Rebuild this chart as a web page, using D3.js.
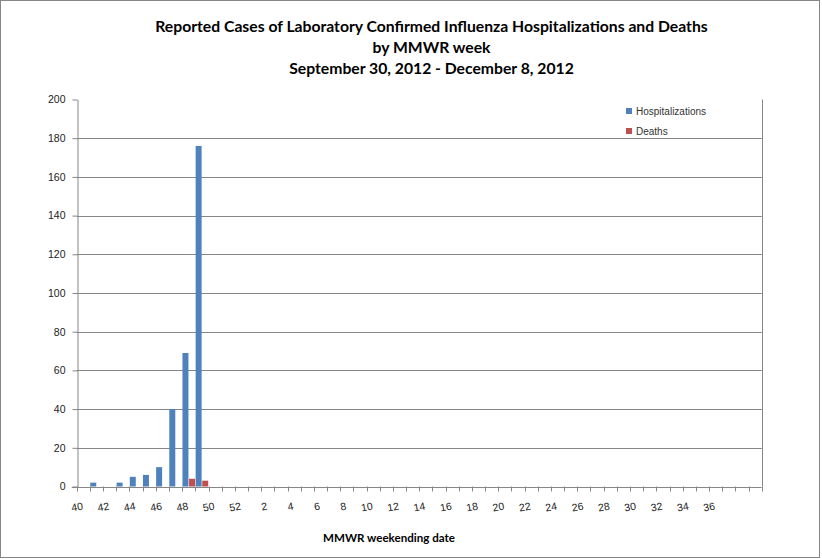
<!DOCTYPE html>
<html>
<head>
<meta charset="utf-8">
<script src="https://cdn.jsdelivr.net/npm/d3@7"></script>
<style>
  body { margin: 0; background: #fff; }
  svg { display: block; }
</style>
</head>
<body>
<div id="chart"></div>
<script>
// MMWR weeks on the category axis (2012-2013 season)
const weeks = [40, 41, 42, 43, 44, 45, 46, 47, 48, 49, 50, 51, 52,
  1, 2, 3, 4, 5, 6, 7, 8, 9, 10, 11, 12, 13, 14, 15, 16, 17, 18, 19, 20,
  21, 22, 23, 24, 25, 26, 27, 28, 29, 30, 31, 32, 33, 34, 35, 36, 37, 38, 39]
// weeks that carry a label
const tickLabels = [40, 42, 44, 46, 48, 50, 52, 2, 4, 6, 8, 10, 12, 14, 16,
  18, 20, 22, 24, 26, 28, 30, 32, 34, 36]
// reported weeks 40-49
const reportedWeeks = [40, 41, 42, 43, 44, 45, 46, 47, 48, 49]
const hospitalizations = [0, 2, 0, 2, 5, 6, 10, 40, 69, 176]
const deaths = [0, 0, 0, 0, 0, 0, 0, 0, 4, 3]
const seriesNames = ['Hospitalizations', 'Deaths']
const seriesColors = ['#4f81bd', '#c0504d']
const yTicks = [0, 20, 40, 60, 80, 100, 120, 140, 160, 180, 200]
const titleLines = [
  'Reported Cases of Laboratory Confirmed Influenza Hospitalizations and Deaths',
  'by MMWR week',
  'September 30, 2012 - December 8, 2012'
]

const width = 822
const height = 559
const plotLeft = 76.8
const plotRight = 761.7
const plotTop = 99.5
const plotBottom = 486.5
const lineColor = '#868686'

const svg = d3.select('#chart')
  .append('svg')
  .attr('width', width)
  .attr('height', height)

// chart frame
svg.append('rect')
  .attr('x', 0.5)
  .attr('y', 0.5)
  .attr('width', 819)
  .attr('height', 557)
  .attr('fill', '#fff')
  .attr('stroke', lineColor)

const x = d3.scaleBand()
  .domain(weeks)
  .range([plotLeft, plotRight])
  .padding(0)

const xSub = d3.scaleBand()
  .domain(seriesNames)
  .range([0, x.bandwidth()])
  .padding(0)

const y = d3.scaleLinear()
  .domain([0, 200])
  .range([plotBottom, plotTop])

// gridlines
svg.append('g')
  .selectAll('line')
  .data(yTicks.filter(d => d > 0 && d < 200))
  .join('line')
  .attr('x1', plotLeft)
  .attr('x2', plotRight)
  .attr('y1', d => Math.round(y(d)) + 0.5)
  .attr('y2', d => Math.round(y(d)) + 0.5)
  .attr('stroke', lineColor)

// right edge of plot area
svg.append('line')
  .attr('x1', Math.round(plotRight) + 0.5)
  .attr('x2', Math.round(plotRight) + 0.5)
  .attr('y1', plotTop)
  .attr('y2', plotBottom)
  .attr('stroke', lineColor)

// bars
const rows = reportedWeeks.map((w, i) => ({ week: w, values: [hospitalizations[i], deaths[i]] }))

const groups = svg.append('g')
  .selectAll('g')
  .data(rows)
  .join('g')
  .attr('transform', d => `translate(${x(d.week)},0)`)

groups.selectAll('rect')
  .data(d => d.values.map((v, i) => ({ name: seriesNames[i], value: v, color: seriesColors[i] })))
  .join('rect')
  .attr('x', d => xSub(d.name) + 0.3)
  .attr('width', xSub.bandwidth() - 0.6)
  .attr('y', d => y(d.value))
  .attr('height', d => y(0) - y(d.value))
  .attr('fill', d => d.color)

// y axis
const yAxis = svg.append('g')
  .attr('transform', `translate(${Math.round(plotLeft) + 0.5},0)`)
  .call(d3.axisLeft(y).tickValues(yTicks).tickSize(5).tickPadding(7).tickSizeOuter(0))
yAxis.select('.domain').attr('stroke', lineColor)
yAxis.selectAll('.tick line').attr('stroke', lineColor)
yAxis.selectAll('text')
  .attr('font-family', 'Liberation Sans, Arial, sans-serif')
  .attr('font-size', '10.5px')
  .attr('fill', '#222')

// x axis line and category boundary ticks
const xAxis = svg.append('g')
xAxis.append('line')
  .attr('x1', plotLeft - 5)
  .attr('x2', plotRight)
  .attr('y1', Math.round(plotBottom) + 0.5)
  .attr('y2', Math.round(plotBottom) + 0.5)
  .attr('stroke', lineColor)
xAxis.selectAll('line.cat-tick')
  .data(weeks.map(w => x(w)).concat([x(weeks[weeks.length - 1]) + x.bandwidth()]))
  .join('line')
  .attr('class', 'cat-tick')
  .attr('x1', d => Math.round(d) + 0.5)
  .attr('x2', d => Math.round(d) + 0.5)
  .attr('y1', plotBottom)
  .attr('y2', plotBottom + 5)
  .attr('stroke', lineColor)

// category labels, end-anchored at category centre and slightly rotated
xAxis.selectAll('text')
  .data(tickLabels)
  .join('text')
  .attr('transform', d => `translate(${x(d) + x.bandwidth() / 2},${plotBottom + 23}) rotate(-10)`)
  .attr('text-anchor', 'end')
  .attr('font-family', 'Liberation Sans, Arial, sans-serif')
  .attr('font-size', '10.5px')
  .attr('fill', '#222')
  .text(d => d)

// fit text to a measured width
function fitWidth(sel, target) {
  const w = sel.node().getComputedTextLength()
  const fs = parseFloat(sel.attr('font-size'))
  sel.attr('font-size', (fs * target / w) + 'px')
}

// title
const titleY = [32, 53, 74]
const titles = svg.append('g')
  .selectAll('text')
  .data(titleLines)
  .join('text')
  .attr('x', 431.5)
  .attr('y', (d, i) => titleY[i])
  .attr('text-anchor', 'middle')
  .attr('font-family', 'Lato, "Open Sans", sans-serif')
  .attr('font-weight', 'bold')
  .attr('font-size', '15px')
  .attr('fill', '#000')
  .text(d => d)
fitWidth(d3.select(titles.nodes()[0]), 553)
titles.attr('font-size', d3.select(titles.nodes()[0]).attr('font-size'))

// x axis title
const xTitle = svg.append('text')
  .attr('x', 389)
  .attr('y', 542)
  .attr('text-anchor', 'middle')
  .attr('font-family', 'Lato, "Open Sans", sans-serif')
  .attr('font-weight', 'bold')
  .attr('font-size', '11px')
  .attr('fill', '#000')
  .text('MMWR weekending date')
fitWidth(xTitle, 132)

// legend
const legend = svg.append('g')
  .selectAll('g')
  .data(seriesNames)
  .join('g')
  .attr('transform', (d, i) => `translate(626,${108 + i * 20})`)
legend.append('rect')
  .attr('width', 6)
  .attr('height', 6)
  .attr('fill', (d, i) => seriesColors[i])
legend.append('text')
  .attr('x', 10)
  .attr('y', 6.5)
  .attr('font-family', 'Liberation Sans, Arial, sans-serif')
  .attr('font-size', '10px')
  .attr('fill', '#333')
  .text(d => d)
</script>
</body>
</html>
